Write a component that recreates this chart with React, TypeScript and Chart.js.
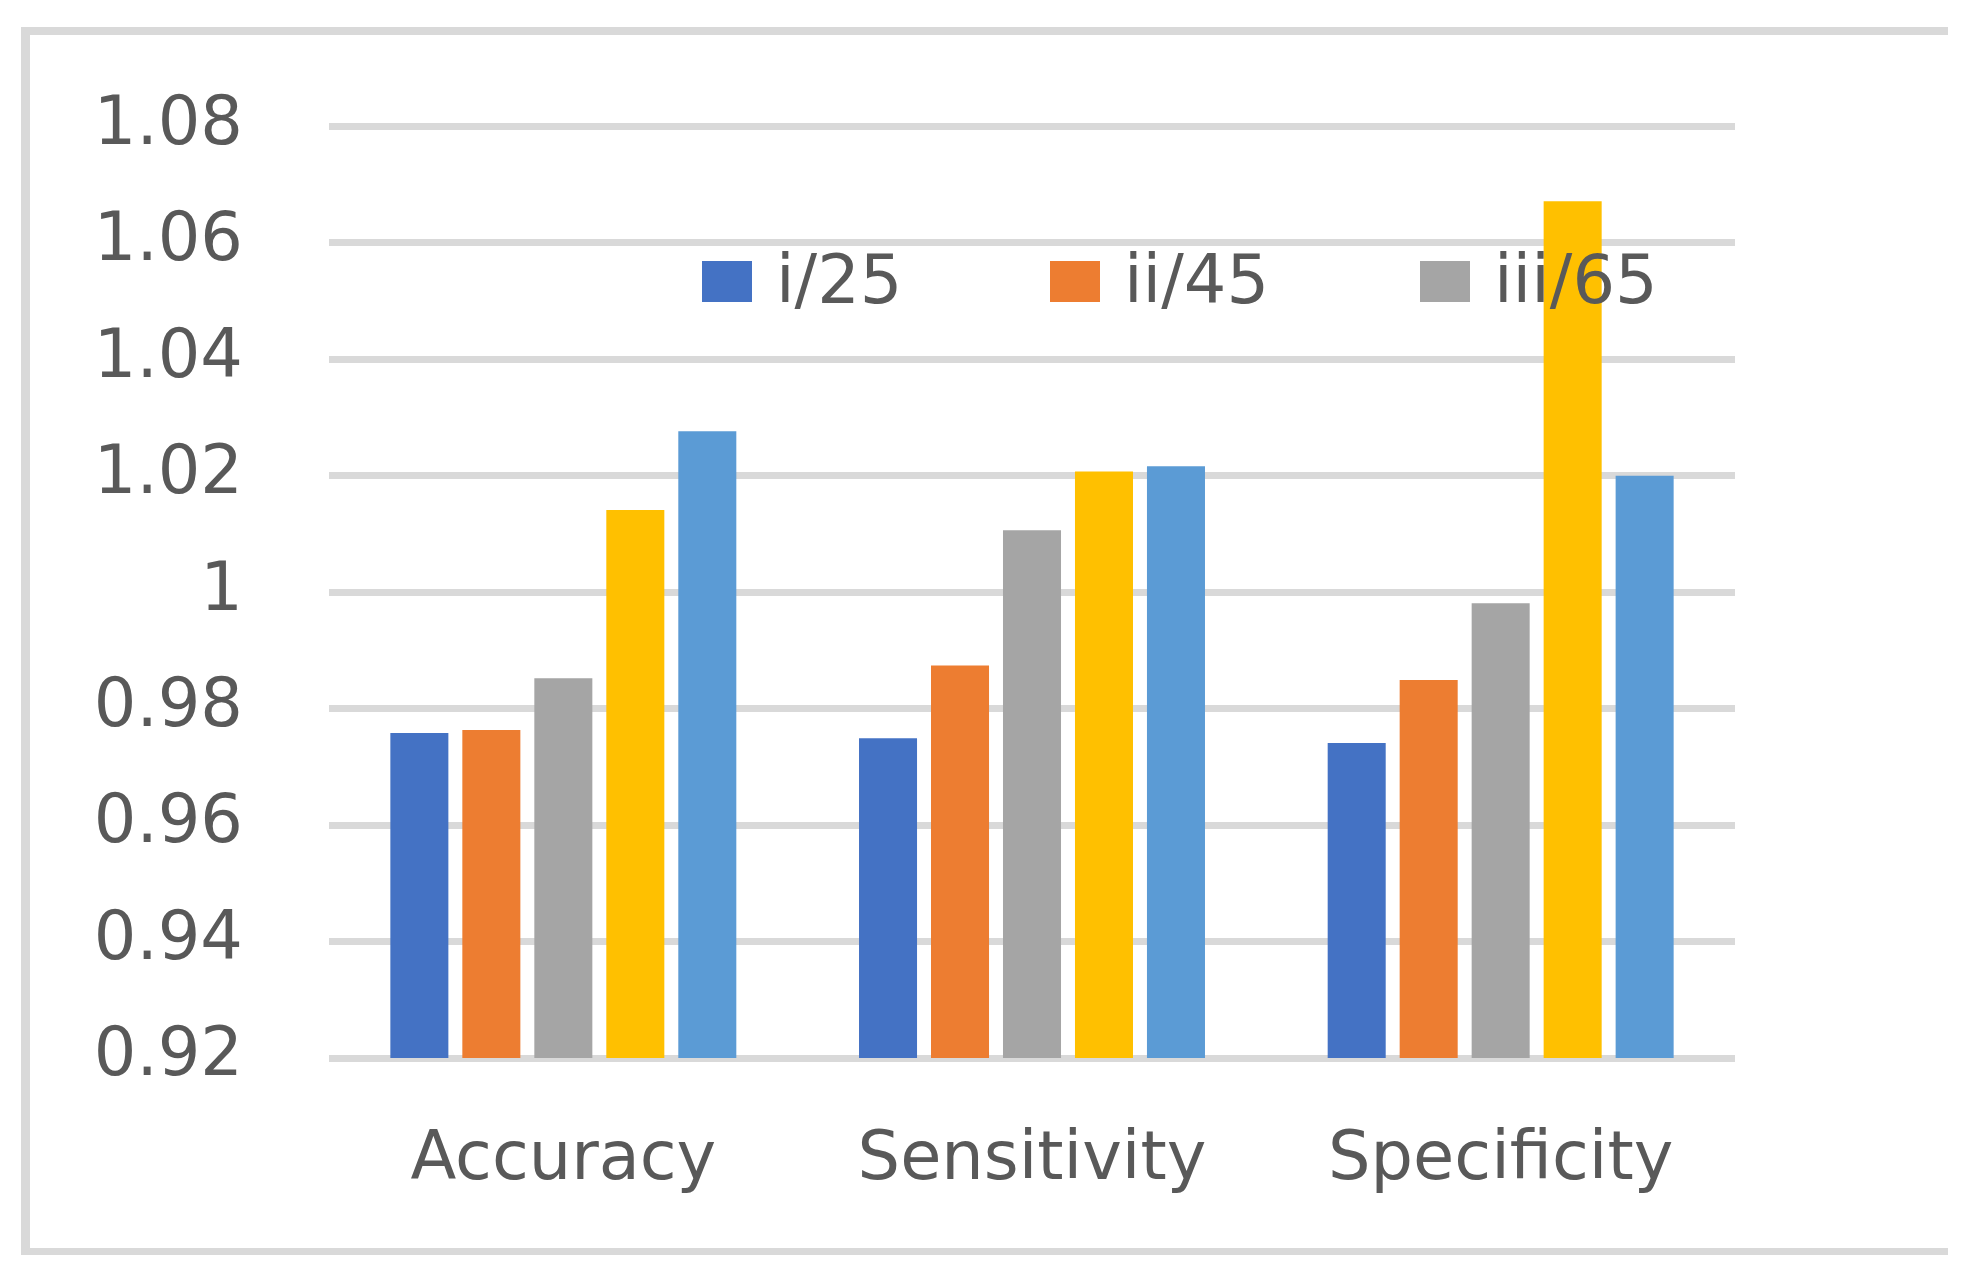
import React, { useEffect, useRef } from "react";
import { Chart, registerables } from "chart.js";

Chart.register(...registerables);

const categories = ["Accuracy", "Sensitivity", "Specificity"];
const seriesNames = ["i/25", "ii/45", "iii/65", "Series 4", "Series 5"];
const seriesColors = ["#4472C4", "#ED7D31", "#A5A5A5", "#FFC000", "#5B9BD5"];
const series1 = [0.9758, 0.9749, 0.9741];
const series2 = [0.9763, 0.9874, 0.9849];
const series3 = [0.9852, 1.0106, 0.9981];
const series4 = [1.0141, 1.0207, 1.0671];
const series5 = [1.0276, 1.0216, 1.02];
const yTickValues = [0.92, 0.94, 0.96, 0.98, 1.0, 1.02, 1.04, 1.06, 1.08];
const yTickLabels = ["0.92", "0.94", "0.96", "0.98", "1", "1.02", "1.04", "1.06", "1.08"];
const legendCount = 3;

const FONT = "'DejaVu Sans', sans-serif";
const TEXT = "#595959";
const GRID = "#d9d9d9";
const FS = 67;

const legendPlugin = {
  id: "customLegend",
  afterDatasetsDraw(chart: any) {
    const ctx = chart.ctx;
    const starts = [702, 1050, 1420];
    ctx.save();
    ctx.font = `${FS}px ${FONT}`;
    ctx.textBaseline = "alphabetic";
    ctx.textAlign = "left";
    for (let i = 0; i < legendCount; i++) {
      const ds = chart.data.datasets[i];
      ctx.fillStyle = ds.backgroundColor;
      ctx.fillRect(starts[i], 261, 50, 41);
      ctx.fillStyle = TEXT;
      ctx.fillText(ds.label, starts[i] + 74, 303);
    }
    ctx.restore();
  },
};

export default function App() {
  const ref = useRef<HTMLCanvasElement>(null);
  useEffect(() => {
    if (!ref.current) return;
    const allSeries = [series1, series2, series3, series4, series5];
    const chart = new Chart(ref.current, {
      type: "bar",
      data: {
        labels: categories,
        datasets: allSeries.map((d, i) => ({
          label: seriesNames[i],
          data: d,
          backgroundColor: seriesColors[i],
          borderWidth: 0,
          barPercentage: 0.806,
          categoryPercentage: 0.768,
        })),
      },
      options: {
        responsive: false,
        animation: false,
        layout: { padding: { left: 0, right: 247, top: 122, bottom: 0 } },
        plugins: {
          legend: { display: false },
          tooltip: { enabled: false },
        },
        scales: {
          x: {
            grid: { display: false },
            border: { display: false },
            ticks: {
              font: { family: FONT, size: FS },
              color: TEXT,
              padding: 55,
            },
            afterFit: (s: any) => {
              s.height = 225;
            },
          },
          y: {
            min: 0.92,
            max: 1.08,
            afterBuildTicks: (s: any) => {
              s.ticks = yTickValues.map((v) => ({ value: v }));
            },
            ticks: {
              font: { family: FONT, size: FS },
              color: TEXT,
              padding: 86,
              callback: (_v: any, i: number) => yTickLabels[i],
            },
            grid: { color: GRID, lineWidth: 7, drawTicks: false },
            border: { display: false },
            afterFit: (s: any) => {
              s.width = 329;
            },
          },
        },
      },
      plugins: [legendPlugin],
    });
    return () => chart.destroy();
  }, []);

  return (
    <div style={{ position: "absolute", left: 0, top: 0, width: 1982, height: 1283, background: "#fff" }}>
      <div style={{ position: "absolute", left: 21, top: 27, width: 9, height: 1228, background: GRID }} />
      <div style={{ position: "absolute", left: 21, top: 27, width: 1927, height: 8, background: GRID }} />
      <div style={{ position: "absolute", left: 21, top: 1248, width: 1927, height: 7, background: GRID }} />
      <canvas ref={ref} width={1982} height={1283} style={{ position: "absolute", left: 0, top: 0 }} />
    </div>
  );
}
